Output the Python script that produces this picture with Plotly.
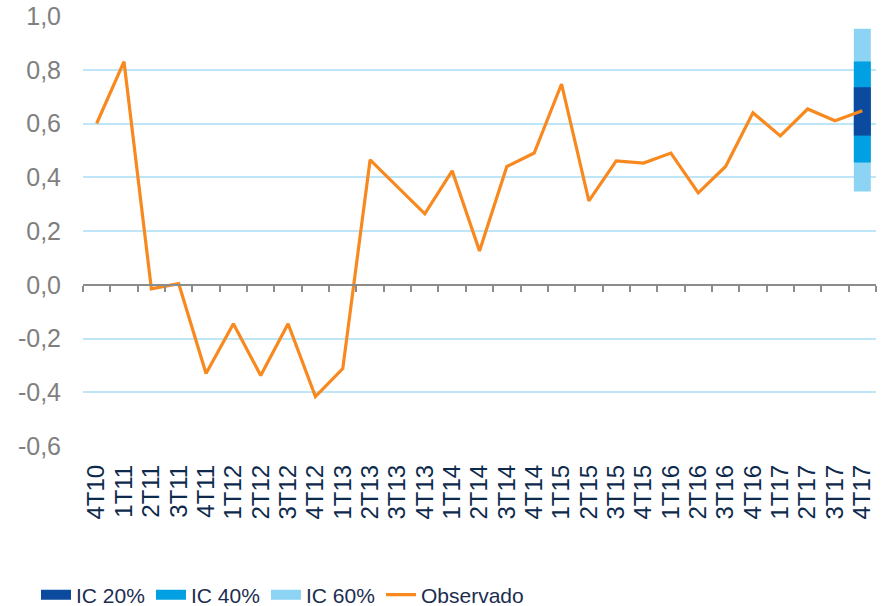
import plotly.graph_objects as go

# trimestres
trimestres = ["4T10", "1T11", "2T11", "3T11", "4T11", "1T12", "2T12", "3T12", "4T12",
              "1T13", "2T13", "3T13", "4T13", "1T14", "2T14", "3T14", "4T14",
              "1T15", "2T15", "3T15", "4T15", "1T16", "2T16", "3T16", "4T16",
              "1T17", "2T17", "3T17", "4T17"]

observado = [0.60, 0.83, -0.015, 0.004, -0.33, -0.145, -0.338, -0.145, -0.416,
             -0.312, 0.465, 0.364, 0.264, 0.424, 0.126, 0.44, 0.49,
             0.747, 0.312, 0.461, 0.453, 0.49, 0.342, 0.44, 0.64,
             0.554, 0.654, 0.61, 0.647]

# intervalos de confiança no último trimestre (inferior, superior)
ic_periodo = "4T17"
ic20 = (0.555, 0.735)
ic40 = (0.455, 0.831)
ic60 = (0.347, 0.953)

y_ticks = [-0.6, -0.4, -0.2, 0.0, 0.2, 0.4, 0.6, 0.8, 1.0]
y_labels = ["-0,6", "-0,4", "-0,2", "0,0", "0,2", "0,4", "0,6", "0,8", "1,0"]

cor_ic20 = "#0b4a9e"
cor_ic40 = "#00a0e3"
cor_ic60 = "#8dd3f3"
cor_obs = "#f7891f"

fig = go.Figure()

# leque: barras sobrepostas (a mais larga primeiro)
for nome, ic, cor in [("IC 60%", ic60, cor_ic60), ("IC 40%", ic40, cor_ic40), ("IC 20%", ic20, cor_ic20)]:
    fig.add_trace(go.Bar(
        x=[ic_periodo], y=[ic[1] - ic[0]], base=[ic[0]],
        name=nome, marker=dict(color=cor, line=dict(width=0)),
        width=0.62, showlegend=False, hoverinfo="skip",
    ))

# entradas da legenda (retângulos largos como no original)
for nome, cor in [("IC 20%", cor_ic20), ("IC 40%", cor_ic40), ("IC 60%", cor_ic60)]:
    fig.add_trace(go.Scatter(x=[None], y=[None], mode="lines", name=nome,
                             line=dict(color=cor, width=10)))

fig.add_trace(go.Scatter(
    x=trimestres, y=observado, mode="lines", name="Observado",
    line=dict(color=cor_obs, width=3.2),
))

# entrada vazia só para a legenda não cortar "Observado"
fig.add_trace(go.Scatter(x=[None], y=[None], mode="lines", name=" ",
                         line=dict(color="rgba(0,0,0,0)", width=0), hoverinfo="skip"))

# eixo auxiliar só para desenhar a linha do zero com os tracinhos
fig.add_trace(go.Scatter(
    x=trimestres, y=observado, xaxis="x2", mode="lines",
    line=dict(width=0), opacity=0, showlegend=False, hoverinfo="skip",
))

fonte = "Liberation Sans, Arial, sans-serif"

fig.update_layout(
    width=883, height=606,
    margin=dict(l=83, r=7, t=16, b=160, autoexpand=False),
    paper_bgcolor="white", plot_bgcolor="white",
    barmode="overlay",
    font=dict(family=fonte),
    showlegend=True,
    legend=dict(
        orientation="h", xref="container", yref="container",
        x=36 / 883, xanchor="left", y=11 / 606, yanchor="middle",
        font=dict(family=fonte, size=21, color="#1c2d50"),
        itemwidth=30, entrywidth=70, traceorder="normal",
        tracegroupgap=0, itemclick=False,
    ),
    xaxis=dict(
        type="category", categoryarray=trimestres, range=[-0.5, len(trimestres) - 0.5],
        tickmode="array", tickvals=trimestres,
        tickangle=-90, showgrid=False, showline=False, ticks="",
        tickfont=dict(size=24, color="#0d2a4d"), automargin=False,
        ticklabelstandoff=13,
    ),
    xaxis2=dict(
        type="category", categoryarray=trimestres, range=[-0.5, len(trimestres) - 0.5],
        overlaying="x", anchor="free", position=0.6 / 1.6,
        showline=True, linecolor="#8c8c8c", linewidth=2,
        ticks="outside", tickson="boundaries", ticklen=6, tickwidth=2, tickcolor="#8c8c8c",
        showticklabels=False, showgrid=False,
    ),
    yaxis=dict(
        range=[-0.6, 1.0], tickvals=y_ticks, ticktext=y_labels,
        showgrid=True, gridcolor="#bfe6f7", gridwidth=2,
        zeroline=False, showline=False, automargin=False,
        tickfont=dict(size=25, color="#7f7f7f"), ticklabelstandoff=21,
    ),
)

# tira a margem padrão do body para a figura ocupar a janela toda
fig.write_html("out.html", config={"displayModeBar": False},
               post_script="document.body.style.margin='0px';")
